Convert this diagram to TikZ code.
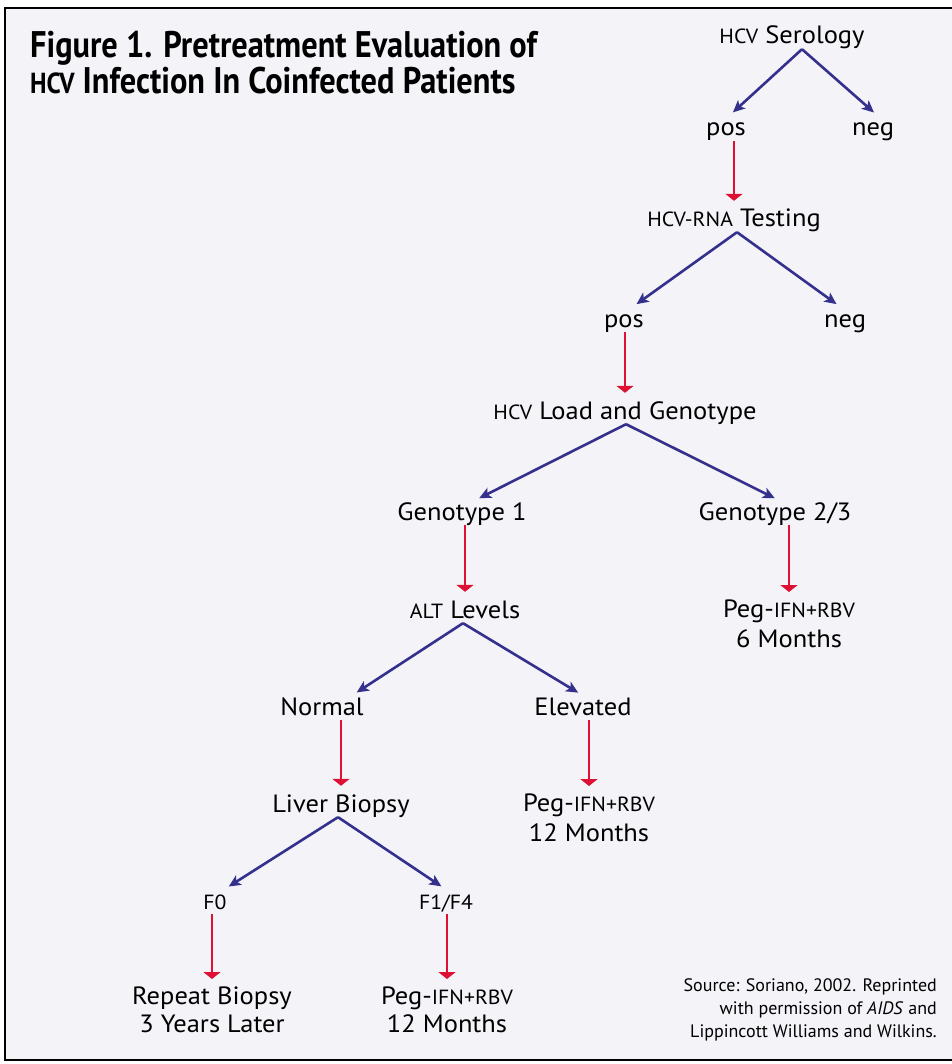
\documentclass[tikz,border=0pt]{standalone}
\usepackage{fontspec}
\setmainfont[FakeStretch=1.06]{PT Sans}
\newfontfamily\titlefont[FakeStretch=0.875]{PT Sans}
\newfontfamily\notefont{PT Sans}
\usetikzlibrary{arrows.meta}
\definecolor{panel}{RGB}{243,243,248}
\definecolor{flowblue}{RGB}{52,48,140}
\definecolor{flowred}{RGB}{222,16,52}
\newcommand{\smc}[1]{{\fontsize{20.5}{22}\selectfont #1}}
\newcommand{\smct}[1]{{\fontsize{29}{30}\selectfont #1}}

\begin{document}
\begin{tikzpicture}[x=1pt,y=-1pt,
    every node/.style={font=\fontsize{25}{30}\selectfont, inner sep=0pt, text height=18pt, text depth=5pt, anchor=base},
    twoline/.style={align=center, text height={}, text depth={}, anchor=north},
    split/.style={draw=flowblue, line width=2.6pt, -{Stealth[length=12pt,width=11pt,inset=3pt]}, shorten >=8pt},
    goes/.style={draw=flowred, line width=2.4pt, -{Triangle[length=7pt,width=17pt]}, shorten >=8pt}]
            \useasboundingbox (0,0) rectangle (951,1064);
            \fill[white] (0,0) rectangle (951,1064);
            \draw[fill=panel, line width=1.5pt] (5,8) rectangle (960,1060);

            \node [anchor=base west, align=left, text height={}, text depth={}, font=\fontsize{37}{36}\titlefont\bfseries] (0) at (30,94) {Figure 1. Pretreatment Evaluation of\\\smct{HCV} Infection In Coinfected Patients};
            \node  (1) at (792,44) {\smc{HCV} Serology};
            \node  (2) at (726,136) {pos};
            \node  (3) at (873,136) {neg};
            \node  (4) at (734,227) {\smc{HCV-RNA} Testing};
            \node  (5) at (624,327) {pos};
            \node  (6) at (845,327) {neg};
            \node  (7) at (625,419) {\smc{HCV} Load and Genotype};
            \node  (8) at (462,520) {Genotype 1};
            \node  (9) at (775,520) {Genotype 2/3};
            \node  (10) at (465,618) {\smc{ALT} Levels};
            \node [twoline] (11) at (789,600) {Peg-\smc{IFN+RBV}\\6 Months};
            \node  (12) at (322,715) {Normal};
            \node  (13) at (583,715) {Elevated};
            \node  (14) at (341,812) {Liver Biopsy};
            \node [twoline] (15) at (589,794) {Peg-\smc{IFN+RBV}\\12 Months};
            \node  (16) at (215,909) {\smc{F0}};
            \node  (17) at (446,909) {\smc{F1/F4}};
            \node [twoline, font=\fontsize{25}{28}\selectfont] (18) at (212,987) {Repeat Biopsy\\3 Years Later};
            \node [twoline, font=\fontsize{25}{28}\selectfont] (19) at (447,987) {Peg-\smc{IFN+RBV}\\12 Months};
            \node [anchor=north east, align=right, text height={}, text depth={}, font=\fontsize{18}{23}\notefont] (20) at (937,978) {Source: Soriano, 2002. Reprinted\\with permission of \textit{AIDS} and\\Lippincott Williams and Wilkins.};

            \draw [split] ([xshift=10pt]1.south) to ([xshift=1pt]2.north);
            \draw [split] ([xshift=10pt]1.south) to ([xshift=7pt]3.north);
            \draw [split] ([xshift=3pt]4.south) to ([xshift=6pt]5.north);
            \draw [split] ([xshift=3pt]4.south) to ([xshift=-2pt]6.north);
            \draw [split] ([xshift=1pt]7.south) to ([xshift=10pt]8.north);
            \draw [split] ([xshift=1pt]7.south) to ([xshift=7pt]9.north);
            \draw [split] ([xshift=-2pt]10.south) to ([xshift=28pt]12.north);
            \draw [split] ([xshift=-2pt]10.south) to ([xshift=2pt]13.north);
            \draw [split] ([xshift=-3pt]14.south) to ([xshift=7pt]16.north);
            \draw [split] ([xshift=-3pt]14.south) to ([xshift=2pt]17.north);

            \draw [goes] (2.south -| 4.north) to (4.north);
            \draw [goes] (5.south -| 7.north) to (7.north);
            \draw [goes] (8.south -| 10.north) to (10.north);
            \draw [goes] (9.south -| 11.north) to (11.north);
            \draw [goes] (12.south -| 14.north) to (14.north);
            \draw [goes] (13.south -| 15.north) to (15.north);
            \draw [goes] (16.south -| 18.north) to (18.north);
            \draw [goes] (17.south -| 19.north) to (19.north);
    \end{tikzpicture}
\end{document}
